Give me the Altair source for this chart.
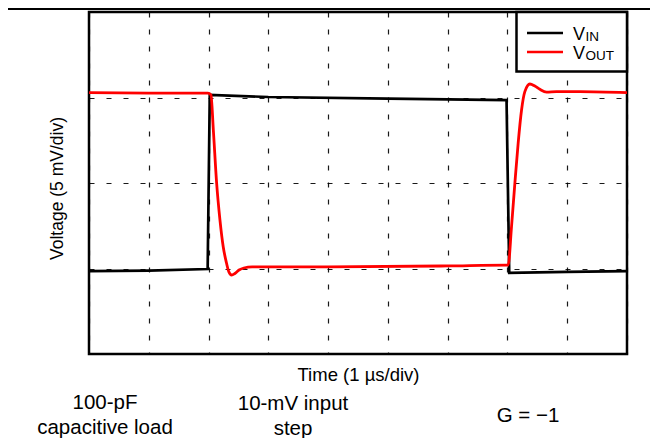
import altair as alt
import pandas as pd

FONT = "Liberation Sans"

# V_IN trace: time in µs (1 µs/div), voltage in mV (5 mV/div)
vin_time = [0.0, 1.0, 1.985, 2.02, 3.0, 5.0, 6.985, 7.03, 8.0, 9.0]
vin_mv = [4.85, 4.88, 4.97, 15.15, 15.03, 14.94, 14.85, 4.74, 4.80, 4.85]

# V_OUT trace
vout_time = [0.0, 1.0, 1.99, 2.04, 2.08, 2.135, 2.19, 2.246, 2.30, 2.34, 2.386,
             2.44, 2.51, 2.59, 2.73, 4.0, 6.0, 6.99, 7.012, 7.068, 7.124, 7.179,
             7.236, 7.291, 7.375, 7.458, 7.542, 7.654, 7.82, 8.21, 9.0]
vout_mv = [15.28, 15.25, 15.26, 15.15, 13.1, 10.0, 7.86, 6.26, 5.32, 4.8, 4.62,
           4.71, 4.91, 5.03, 5.09, 5.09, 5.15, 5.20, 5.20, 7.44, 9.98, 12.32,
           14.27, 15.34, 15.79, 15.67, 15.48, 15.32, 15.34, 15.34, 15.28]

# grid divisions
x_divs = [0, 1, 2, 3, 4, 5, 6, 7, 8, 9]
y_divs = [0, 5, 10, 15, 20]

# texts
x_title = "Time (1 µs/div)"
y_title = "Voltage (5 mV/div)"
note_load = ["100-pF", "capacitive load"]
note_step = ["10-mV input", "step"]
note_gain = "G = −1"
leg_main = "V"
leg_subs = ["IN", "OUT"]
leg_colors = ["black", "red"]

vin_df = pd.DataFrame({"t": vin_time, "v": vin_mv})
vout_df = pd.DataFrame({"t": vout_time, "v": vout_mv})
one = pd.DataFrame({"k": [0]})

xs = alt.Scale(domain=[0, 9], nice=False, zero=False)
ys = alt.Scale(domain=[0, 20], nice=False, zero=False)

grid_common = dict(grid=True, gridDash=[5, 12], gridColor="black", gridWidth=1.2,
                   gridOpacity=0.9, labels=False, ticks=False, domain=False,
                   titleFont=FONT, titleFontWeight="normal", titleColor="black")

x_enc = alt.X("t:Q", scale=xs,
              axis=alt.Axis(values=x_divs, title=x_title, titlePadding=11,
                            titleFontSize=18.5, **grid_common))
y_enc = alt.Y("v:Q", scale=ys,
              axis=alt.Axis(values=y_divs, title=y_title, titlePadding=23,
                            titleFontSize=17.5, titleY=176, **grid_common))

vin_line = alt.Chart(vin_df).mark_line(color="black", strokeWidth=2.7).encode(
    x=x_enc, y=y_enc)
vout_line = alt.Chart(vout_df).mark_line(color="red", strokeWidth=2.8,
                                          interpolate="monotone").encode(
    x="t:Q", y="v:Q")

# legend box
leg_box = alt.Chart(one).mark_rect(fill="white", stroke="black", strokeWidth=2.5).encode(
    x=alt.value(427.5), x2=alt.value(538), y=alt.value(0), y2=alt.value(59.5))
leg_layers = [leg_box]
for i, (sub, col) in enumerate(zip(leg_subs, leg_colors)):
    yy = 21 + 19 * i
    leg_layers.append(alt.Chart(one).mark_rule(color=col, strokeWidth=2.5).encode(
        x=alt.value(438), x2=alt.value(474), y=alt.value(yy)))
    leg_layers.append(alt.Chart(one).mark_text(
        font=FONT, fontSize=18, align="left", baseline="alphabetic", color="black").encode(
        x=alt.value(484), y=alt.value(yy + 6.5), text=alt.value(leg_main)))
    leg_layers.append(alt.Chart(one).mark_text(
        font=FONT, fontSize=13.5, align="left", baseline="alphabetic", color="black").encode(
        x=alt.value(496.5), y=alt.value(yy + 8), text=alt.value(sub)))

# annotations below the plot
notes = []
for txt, xx, yy in [(note_load, 16, 397), (note_step, 204, 398)]:
    notes.append(alt.Chart(one).mark_text(
        font=FONT, fontSize=20.5, align="center", baseline="alphabetic",
        lineHeight=25, color="black").encode(
        x=alt.value(xx), y=alt.value(yy), text=alt.value(txt)))
notes.append(alt.Chart(one).mark_text(
    font=FONT, fontSize=20.5, align="center", baseline="alphabetic", color="black").encode(
    x=alt.value(439), y=alt.value(409.5), text=alt.value(note_gain)))

# page rule at top
top_rule = alt.Chart(one).mark_rule(color="black", strokeWidth=2).encode(
    x=alt.value(-81), x2=alt.value(600), y=alt.value(-3))

chart = alt.layer(vin_line, vout_line, *leg_layers, *notes, top_rule).properties(
    width=538, height=342,
    autosize=alt.AutoSizeParams(type="none"),
    padding={"left": 81, "top": 4, "right": 23, "bottom": 84},
    background="white",
).configure_view(stroke="black", strokeWidth=2.5)

chart.save("out.html", embed_options={"renderer": "svg", "actions": False})
